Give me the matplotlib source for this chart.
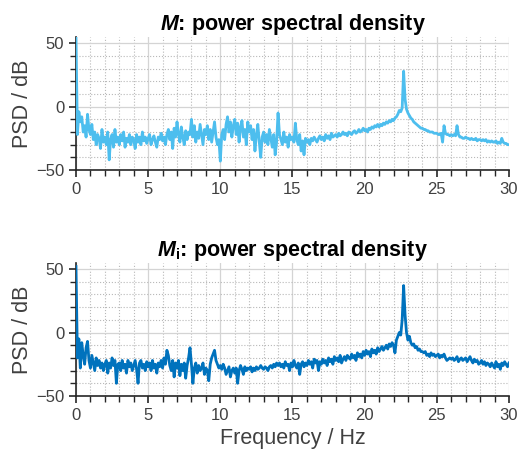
import numpy as np
import matplotlib.pyplot as plt
from matplotlib.ticker import MultipleLocator

plt.rcParams['font.family'] = ['Liberation Sans', 'DejaVu Sans']
plt.rcParams['mathtext.fontset'] = 'custom'
plt.rcParams['mathtext.rm'] = 'Liberation Sans'
plt.rcParams['mathtext.bf'] = 'Liberation Sans:bold'
plt.rcParams['mathtext.it'] = 'Liberation Sans:italic'
plt.rcParams['mathtext.bfit'] = 'Liberation Sans:bold:italic'

# frequency axis, 0.1 Hz step
freq = np.round(np.arange(0, 30.01, 0.1), 1)

# PSD of M (dB)
psd_m = [
    55, -22, -4, -12, -8, -20, -15, -24, -6, -18,
    -22, -14, -26, -20, -30, -22, -25, -33, -18, -28,
    -24, -30, -20, -42, -26, -22, -32, -18, -28, -24,
    -30, -22, -27, -20, -32, -25, -28, -22, -30, -24,
    -26, -33, -22, -28, -24, -30, -20, -27, -24, -29,
    -25, -22, -30, -26, -23, -28, -32, -24, -26, -21,
    -27, -24, -30, -22, -18, -26, -20, -33, -17, -24,
    -12, -22, -28, -16, -24, -30, -19, -26, -20, -22,
    -10, -24, -15, -28, -20, -25, -14, -22, -30, -18,
    -22, -15, -26, -18, -28, -20, -12, -24, -30, -26,
    -43, -22, -18, -26, -14, -8, -20, -12, -24, -15,
    -10, -22, -13, -28, -16, -11, -24, -18, -30, -12,
    -20, -15, -26, -18, -35, -22, -14, -28, -40, -24,
    -20, -28, -22, -30, -18, -25, -32, -22, -38, -28,
    -5, -22, -26, -30, -20, -28, -24, -32, -22, -26,
    -24, -28, -13, -26, -30, -22, -35, -27, -38, -25,
    -28, -26, -30, -25, -27, -24, -26, -28, -25, -23,
    -26, -24, -27, -22, -25, -23, -26, -21, -24, -23,
    -22, -24, -21, -23, -22, -20, -22, -21, -23, -20,
    -21, -22, -20, -19, -21, -20, -18, -20, -19, -17,
    -19, -18, -20, -17, -18, -16, -17, -15, -16, -14,
    -16, -14, -15, -13, -14, -12, -13, -11, -12, -10,
    -11, -9, -8, -6, -3, -4, -1, 28, 6, -2,
    -5, -7, -9, -10, -12, -13, -14, -15, -16, -17,
    -17, -18, -18, -19, -19, -20, -20, -20, -21, -21,
    -21, -22, -22, -21, -28, -15, -21, -22, -22, -23,
    -22, -23, -22, -23, -15, -22, -24, -24, -25, -25,
    -24, -25, -25, -26, -25, -26, -26, -25, -27, -26,
    -26, -27, -26, -27, -26, -28, -27, -28, -27, -28,
    -28, -27, -29, -28, -29, -25, -28, -29, -29, -30,
    -30,
]

# PSD of M_i (dB)
psd_mi = [
    52, -20, -5, -28, -8, -18, -25, -12, -7, -22,
    -28, -18, -24, -30, -20, -26, -22, -28, -24, -30,
    -25, -22, -32, -24, -28, -20, -26, -22, -40, -25,
    -24, -30, -22, -28, -25, -32, -22, -27, -24, -30,
    -26, -22, -29, -40, -24, -22, -28, -25, -30, -23,
    -27, -24, -30, -22, -28, -25, -32, -24, -27, -22,
    -28, -20, -25, -14, -18, -26, -30, -22, -35, -24,
    -28, -22, -34, -25, -30, -24, -36, -26, -20, -12,
    -25, -40, -28, -24, -32, -26, -30, -28, -24, -33,
    -28, -30, -38, -25, -20, -17, -14, -22, -25, -28,
    -26, -29, -25, -28, -33, -30, -27, -35, -30, -28,
    -32, -28, -40, -30, -26, -29, -33, -27, -30, -28,
    -29, -27, -31, -28, -30, -27, -29, -28, -26, -28,
    -29, -27, -28, -30, -27, -26, -28, -25, -27, -24,
    -26, -24, -27, -25, -28, -23, -26, -25, -30, -24,
    -27, -22, -26, -28, -24, -33, -25, -23, -27, -24,
    -26, -22, -25, -23, -28, -21, -24, -22, -30, -23,
    -25, -21, -24, -22, -26, -20, -23, -21, -25, -19,
    -22, -20, -23, -18, -24, -21, -19, -22, -18, -20,
    -21, -17, -20, -18, -22, -16, -19, -17, -20, -15,
    -18, -14, -17, -15, -19, -13, -16, -14, -17, -12,
    -15, -13, -11, -14, -12, -10, -13, -9, -11, -8,
    -10, -16, -6, -3, 0, -2, 10, 37, 14, 0,
    -6, -3, -8, -10, -9, -12, -11, -14, -13, -15,
    -15, -16, -15, -18, -17, -19, -16, -18, -17, -19,
    -18, -17, -20, -18, -19, -17, -20, -22, -21, -20,
    -21, -20, -22, -21, -19, -23, -21, -20, -22, -21,
    -20, -23, -21, -19, -22, -24, -21, -23, -22, -25,
    -24, -22, -25, -23, -26, -24, -25, -27, -24, -26,
    -28, -23, -27, -25, -29, -24, -26, -23, -25, -27,
    -24,
]

titles = [r'$\mathbfit{M}$: power spectral density',
          r'$\mathbfit{M}_\mathbf{i}$: power spectral density']
colors = ['#4DBEEE', '#0072BD']

fig = plt.figure(figsize=(5.19, 4.57), dpi=100)
ax1 = fig.add_axes([0.1464, 0.628, 0.8343, 0.291])
ax2 = fig.add_axes([0.1464, 0.1335, 0.8343, 0.2917])

for ax, y, c, t in zip([ax1, ax2], [psd_m, psd_mi], colors, titles):
    ax.plot(freq, y, color=c, lw=2.0, zorder=3)
    ax.set_xlim(0, 30)
    ax.set_ylim(-50, 55)
    ax.set_yticks([-50, 0, 50])
    ax.set_xticks([0, 5, 10, 15, 20, 25, 30])
    ax.xaxis.set_minor_locator(MultipleLocator(1))
    ax.yaxis.set_minor_locator(MultipleLocator(10))
    ax.grid(which='major', color='#d4d4d4', lw=0.9, ls='-')
    ax.grid(which='minor', color='#b8b8b8', lw=0.8, ls=':')
    ax.set_axisbelow(True)
    for s in ['top', 'right']:
        ax.spines[s].set_visible(False)
    for s in ['left', 'bottom']:
        ax.spines[s].set_color('#262626')
        ax.spines[s].set_linewidth(1.2)
    ax.tick_params(which='major', direction='out', length=5, width=1.2,
                   color='#262626', labelsize=12, labelcolor='#404040')
    ax.tick_params(which='minor', direction='out', length=4, width=1.0,
                   color='#262626')
    ax.set_ylabel('PSD / dB', fontsize=15.5, color='#404040', labelpad=2)
    ax.set_title(t, fontsize=15.5, fontweight='bold', pad=3)

ax2.set_xlabel('Frequency / Hz', fontsize=15.5, color='#404040', labelpad=4)

fig.savefig('out.png', dpi=100)
